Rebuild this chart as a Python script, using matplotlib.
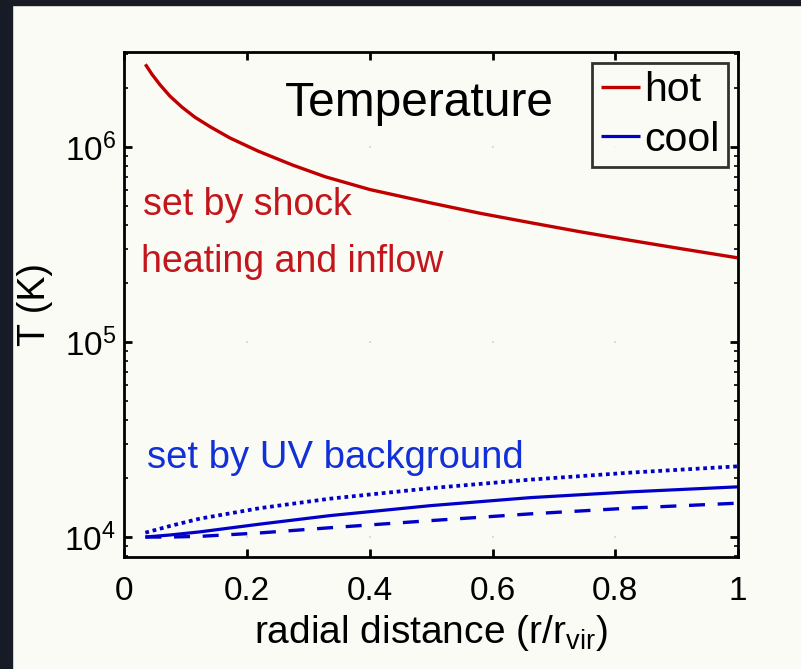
import numpy as np
import matplotlib
matplotlib.use("Agg")
import matplotlib.pyplot as plt
from matplotlib.patches import Rectangle
from matplotlib.ticker import LogLocator, NullFormatter, FixedLocator

plt.rcParams['font.family'] = ['Liberation Sans', 'DejaVu Sans']
plt.rcParams['mathtext.fontset'] = 'custom'
plt.rcParams['mathtext.rm'] = 'Liberation Sans'

# hot phase temperature profile (K) vs r/r_vir
r_hot = [0.034, 0.045, 0.058, 0.074, 0.094, 0.115, 0.14, 0.172, 0.218, 0.274,
         0.327, 0.40, 0.50, 0.58, 0.662, 0.744, 0.825, 0.907, 1.0]
T_hot = [2.655e6, 2.354e6, 2.083e6, 1.824e6, 1.598e6, 1.420e6, 1.268e6, 1.112e6,
         9.52e5, 8.08e5, 7.04e5, 6.05e5, 5.16e5, 4.57e5, 4.09e5, 3.67e5, 3.32e5,
         3.01e5, 2.70e5]

# cool phase profiles (K)
r_cool = [0.034, 0.075, 0.123, 0.221, 0.335, 0.499, 0.662, 0.825, 1.0]
T_cool = [1.0e4, 1.025e4, 1.063e4, 1.165e4, 1.288e4, 1.449e4, 1.593e4, 1.705e4, 1.809e4]
T_cool_hi = [1.053e4, 1.141e4, 1.243e4, 1.407e4, 1.573e4, 1.781e4, 1.970e4, 2.140e4,
             2.305e4]
T_cool_lo = [1.0e4, 1.0e4, 1.008e4, 1.050e4, 1.116e4, 1.214e4, 1.315e4, 1.408e4, 1.492e4]

x_ticks = [0, 0.2, 0.4, 0.6, 0.8, 1]
x_tick_labels = ['0', '0.2', '0.4', '0.6', '0.8', '1']
y_ticks = [1e4, 1e5, 1e6]

bg = '#fbfbf6'
dark = '#161b26'
red = '#c00000'
red_txt = '#c3161c'
blue = '#0000c8'
blue_txt = '#1230d8'

W, H = 801, 669
fig = plt.figure(figsize=(W / 100, H / 100), dpi=100, facecolor=bg)
# dark slide border on the left and top
fig.patches.append(Rectangle((0, 0), 12 / W, 1, transform=fig.transFigure,
                             color=dark, zorder=-1))
fig.patches.append(Rectangle((0, 1 - 5 / H), 1, 5 / H, transform=fig.transFigure,
                             color=dark, zorder=-1))

ax = fig.add_axes([124.5 / W, (H - 557) / H, 613.5 / W, 505 / H])
ax.set_facecolor(bg)

ax.plot(r_hot, T_hot, color=red, lw=2.4, label='hot', solid_capstyle='butt',
        solid_joinstyle='round')
ax.plot(r_cool, T_cool, color=blue, lw=2.3, label='cool', solid_capstyle='butt',
        solid_joinstyle='round')
ax.plot(r_cool, T_cool_hi, color=blue, lw=2.7, linestyle=(0, (1, 1.0)),
        dash_capstyle='butt')
ax.plot(r_cool, T_cool_lo, color=blue, lw=2.4, linestyle=(0, (4.8, 3.8)),
        dash_capstyle='butt')

ax.set_yscale('log')
ax.set_xlim(0, 1)
ax.set_ylim(7.9e3, 3.07e6)

# faint grid points where major ticks cross
gx, gy = np.meshgrid(x_ticks[1:-1], y_ticks)
ax.scatter(gx.ravel(), gy.ravel(), s=3.5, color='#dadada', marker='s', lw=0, zorder=0)

ax.set_xticks(x_ticks)
ax.set_xticklabels(x_tick_labels)
ax.yaxis.set_major_locator(FixedLocator(y_ticks))
ax.yaxis.set_minor_locator(LogLocator(base=10, subs=np.arange(2, 10)))
ax.yaxis.set_minor_formatter(NullFormatter())
ax.tick_params(which='both', direction='in', top=True, right=True, colors='black')
ax.tick_params(which='major', length=6, width=2)
ax.tick_params(which='minor', length=3, width=1.2)
ax.tick_params(axis='x', labelsize=24, pad=14)
ax.tick_params(axis='y', labelsize=24, pad=6)
for s in ax.spines.values():
    s.set_linewidth(2)

ax.set_xlabel(r'radial distance (r/r$_{\mathregular{vir}}$)', fontsize=28, labelpad=4)
ax.set_ylabel('T (K)', fontsize=27, labelpad=8)

ax.text(0.262, 0.873, 'Temperature', transform=ax.transAxes, fontsize=34.5,
        color='black', va='baseline')
ax.text(0.03, 0.677, 'set by shock', transform=ax.transAxes, fontsize=27,
        color=red_txt, va='baseline')
ax.text(0.027, 0.564, 'heating and inflow', transform=ax.transAxes, fontsize=27,
        color=red_txt, va='baseline')
ax.text(0.037, 0.177, 'set by UV background', transform=ax.transAxes, fontsize=27.5,
        color=blue_txt, va='baseline')

leg = ax.legend(loc='upper right', bbox_to_anchor=(0.9837, 0.978), fontsize=29.5,
                handlelength=0.95, handletextpad=0.12, labelspacing=0.28,
                borderpad=0.2, borderaxespad=0, frameon=True, fancybox=False)
leg.get_frame().set_edgecolor('black')
leg.get_frame().set_linewidth(2)
leg.get_frame().set_facecolor(bg)

fig.savefig('out.png', dpi=100, facecolor=bg)
